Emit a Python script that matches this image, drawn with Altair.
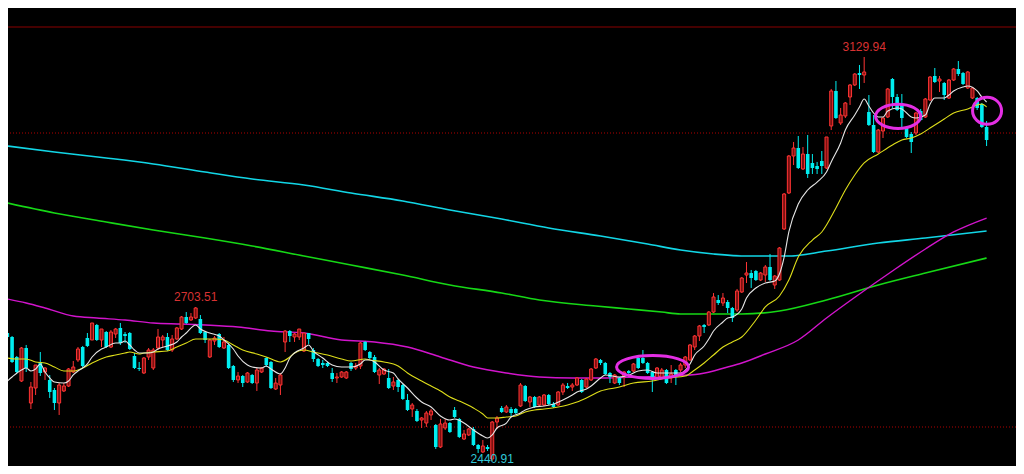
import altair as alt
import pandas as pd

# ---------------- data ----------------
open_ = [2659.2,2652.4,2618.3,2577.4,2633.6,2539.8,2565.4,2609.8,2592.7,2579.1,
         2562.0,2539.8,2560.3,2568.8,2592.7,2613.2,2635.3,2650.7,2647.3,2672.9,
         2647.3,2660.9,2635.3,2657.5,2667.8,2657.5,2659.2,2620.0,2599.5,2591.0,
         2618.3,2599.5,2633.6,2647.3,2652.4,2630.2,2649.0,2666.0,2686.5,2681.4,
         2684.8,2683.1,2660.9,2618.3,2645.6,2657.5,2633.6,2638.8,2602.9,2579.1,
         2585.9,2575.7,2587.6,2573.9,2592.7,2616.6,2609.8,2563.7,2570.5,2643.9,
         2662.6,2652.4,2652.4,2628.5,2659.2,2630.2,2614.9,2608.1,2608.1,2591.0,
         2582.5,2584.2,2582.5,2608.1,2599.5,2602.9,2643.9,2626.8,2618.3,2587.6,
         2589.3,2582.5,2568.8,2579.1,2570.5,2545.0,2529.6,2526.2,2510.8,2505.7,
         2519.4,2502.3,2464.8,2497.2,2505.7,2527.9,2512.5,2478.4,2485.3,2495.5,
         2468.2,2456.3,2464.8,2444.3,2507.4,2531.3,2524.5,2529.6,2529.6,2534.7,
         2568.8,2541.5,2550.1,2536.4,2536.4,2553.5,2538.1,2536.4,2558.6,2568.8,
         2567.1,2570.5,2579.1,2567.1,2579.1,2599.5,2613.2,2608.1,2591.0,2573.9,
         2582.5,2585.9,2594.4,2594.4,2616.6,2616.6,2608.1,2592.7,2582.5,2582.5,
         2596.1,2582.5,2596.1,2596.1,2604.6,2613.2,2635.3,2654.1,2672.9,2672.9,
         2695.0,2715.5,2710.4,2712.1,2701.9,2698.4,2729.1,2758.1,2761.5,2765.0,
         2749.6,2758.1,2771.8,2741.1,2749.6,2836.6,2898.0,2961.1,2974.7,2938.9,
         2964.5,2949.2,2944.0,2952.6,2940.6,3012.3,3072.0,3017.4,3029.3,3061.7,
         3082.2,3102.6,3099.2,3036.1,3014.0,2967.9,3003.7,3027.6,3092.4,3061.7,
         3049.8,3008.9,2998.6,3000.3,3037.8,3027.6,3056.6,3097.5,3089.0,3085.6,
         3060.0,3090.7,3109.5,3102.6,3077.1,3060.0,3060.0,3049.8,3010.6]
close = [2652.4,2609.8,2592.7,2633.6,2599.5,2567.1,2604.6,2591.0,2599.5,2558.6,
         2539.8,2570.5,2568.8,2597.8,2601.2,2631.9,2602.9,2637.1,2676.3,2647.3,
         2666.0,2635.3,2660.9,2666.0,2642.2,2654.1,2631.9,2599.5,2597.8,2616.6,
         2630.2,2630.2,2652.4,2652.4,2630.2,2649.0,2667.8,2686.5,2676.3,2686.5,
         2701.9,2659.2,2647.3,2647.3,2650.7,2635.3,2643.9,2599.5,2579.1,2585.9,
         2573.9,2591.0,2573.9,2596.1,2599.5,2604.6,2565.4,2573.9,2587.6,2662.6,
         2654.1,2657.5,2666.0,2659.2,2649.0,2614.9,2602.9,2604.6,2602.9,2580.8,
         2584.2,2592.7,2592.7,2597.8,2602.9,2642.2,2630.2,2616.6,2592.7,2596.1,
         2597.8,2565.4,2575.7,2567.1,2546.7,2527.9,2536.4,2509.1,2514.3,2522.8,
         2526.2,2464.8,2504.0,2505.7,2490.4,2516.0,2481.9,2487.0,2495.5,2468.2,
         2461.4,2466.5,2461.4,2507.4,2514.3,2524.5,2533.0,2522.8,2522.8,2570.5,
         2543.2,2550.1,2533.0,2550.1,2553.5,2538.1,2533.0,2558.6,2570.5,2565.4,
         2570.5,2582.5,2558.6,2580.8,2597.8,2614.9,2608.1,2589.3,2584.2,2587.6,
         2573.9,2592.7,2591.0,2606.4,2599.5,2608.1,2591.0,2582.5,2599.5,2596.1,
         2573.9,2589.3,2585.9,2604.6,2618.3,2638.8,2654.1,2671.2,2669.5,2695.0,
         2720.6,2710.4,2718.9,2701.9,2684.8,2730.9,2753.0,2761.5,2753.0,2749.6,
         2761.5,2771.8,2749.6,2756.4,2804.2,2896.3,2961.1,2974.7,2940.6,2964.5,
         2930.4,2940.6,2938.9,2944.0,2993.5,3072.0,3025.9,3031.0,3051.5,3082.2,
         3100.9,3099.2,3104.4,3014.0,2967.9,3005.4,3025.9,3075.4,3061.7,3039.5,
         3025.9,2993.5,2985.0,3034.4,3022.5,3058.3,3095.8,3087.3,3092.4,3065.1,
         3090.7,3109.5,3100.9,3083.9,3104.4,3077.1,3043.0,3010.6,2988.4]
high = [2676.3,2654.1,2620.0,2635.3,2638.8,2575.7,2604.6,2626.8,2601.2,2587.6,
        2565.4,2573.9,2573.9,2599.5,2611.5,2635.3,2637.1,2659.2,2676.3,2674.6,
        2666.0,2662.6,2664.3,2667.8,2676.3,2660.9,2660.9,2625.1,2609.8,2618.3,
        2633.6,2633.6,2666.0,2655.8,2659.2,2655.8,2669.5,2688.2,2695.0,2693.3,
        2703.51,2689.9,2662.6,2649.0,2654.1,2659.2,2652.4,2642.2,2604.6,2592.7,
        2587.6,2592.7,2589.3,2599.5,2601.2,2618.3,2611.5,2582.5,2591.0,2664.3,
        2664.3,2659.2,2666.0,2659.2,2659.2,2633.6,2616.6,2613.2,2609.8,2599.5,
        2591.0,2594.4,2594.4,2609.8,2608.1,2643.9,2645.6,2628.5,2621.7,2599.5,
        2599.5,2597.8,2584.2,2580.8,2572.2,2555.2,2539.8,2529.6,2516.0,2526.2,
        2529.6,2504.0,2512.5,2512.5,2507.4,2533.0,2514.3,2493.8,2497.2,2498.9,
        2469.9,2476.7,2468.2,2509.1,2517.7,2534.7,2536.4,2533.0,2531.3,2573.9,
        2570.5,2551.8,2551.8,2551.8,2555.2,2555.2,2541.5,2560.3,2573.9,2573.9,
        2573.9,2584.2,2580.8,2582.5,2599.5,2616.6,2614.9,2609.8,2592.7,2589.3,
        2584.2,2594.4,2596.1,2608.1,2618.3,2630.2,2609.8,2594.4,2601.2,2599.5,
        2597.8,2604.6,2597.8,2608.1,2620.0,2640.5,2655.8,2672.9,2674.6,2696.7,
        2727.4,2724.0,2727.4,2715.5,2703.6,2734.3,2754.7,2780.3,2766.7,2766.7,
        2763.3,2775.2,2794.0,2758.1,2805.9,2898.0,2962.8,2985.0,2995.2,2976.4,
        2996.9,2964.5,2950.9,2969.6,2993.5,3075.4,3089.0,3043.0,3053.2,3083.9,
        3102.6,3116.3,3129.94,3065.1,3031.0,3007.1,3027.6,3077.1,3094.1,3066.8,
        3066.8,3012.3,3002.0,3036.1,3041.3,3060.0,3097.5,3111.2,3097.5,3087.3,
        3092.4,3111.2,3123.1,3104.4,3106.1,3078.8,3061.7,3051.5,3020.8]
low = [2643.9,2608.1,2591.0,2575.7,2592.7,2529.6,2553.5,2585.9,2579.1,2548.4,
       2527.9,2519.4,2558.6,2567.1,2591.0,2609.8,2601.2,2635.3,2647.3,2645.6,
       2635.3,2633.6,2633.6,2650.7,2638.8,2642.2,2630.2,2597.8,2594.4,2589.3,
       2613.2,2596.1,2630.2,2635.3,2628.5,2626.8,2647.3,2664.3,2674.6,2679.7,
       2683.1,2657.5,2642.2,2616.6,2638.8,2633.6,2631.9,2597.8,2575.7,2573.9,
       2567.1,2573.9,2572.2,2560.3,2591.0,2601.2,2563.7,2562.0,2553.5,2626.8,
       2643.9,2643.9,2647.3,2626.8,2640.5,2609.8,2601.2,2599.5,2601.2,2575.7,
       2573.9,2582.5,2580.8,2594.4,2596.1,2597.8,2628.5,2614.9,2591.0,2572.2,
       2587.6,2563.7,2562.0,2558.6,2545.0,2526.2,2516.0,2507.4,2497.2,2498.9,
       2510.8,2461.4,2463.1,2493.8,2488.7,2514.3,2480.1,2476.7,2483.6,2466.5,
       2454.6,2454.6,2458.0,2440.91,2495.5,2522.8,2522.8,2517.7,2521.1,2533.0,
       2541.5,2533.0,2531.3,2534.7,2534.7,2536.4,2531.3,2534.7,2553.5,2563.7,
       2560.3,2568.8,2556.9,2565.4,2577.4,2597.8,2604.6,2587.6,2573.9,2572.2,
       2570.5,2567.1,2589.3,2592.7,2597.8,2606.4,2589.3,2558.6,2580.8,2580.8,
       2572.2,2573.9,2570.5,2592.7,2599.5,2611.5,2630.2,2645.6,2659.2,2671.2,
       2693.3,2707.0,2705.3,2693.3,2678.0,2695.0,2727.4,2744.5,2736.0,2747.9,
       2747.9,2746.2,2747.9,2734.3,2747.9,2834.9,2896.3,2945.7,2938.9,2937.2,
       2923.6,2930.4,2930.4,2930.4,2938.9,3005.4,3024.2,3014.0,3025.9,3048.1,
       3080.5,3075.4,3085.6,3012.3,2966.2,2966.2,2991.8,3025.9,3043.0,3037.8,
       3008.9,2991.8,2966.2,2996.9,3020.8,3025.9,3054.9,3085.6,3070.2,3056.6,
       3058.3,3089.0,3097.5,3082.2,3075.4,3058.3,3039.5,3008.9,2978.1]

# moving averages: (candle index, value)
ma_white_i = [0,1,3,4,5,6,7,8,9,10,12,13,14,15,16,17,18,20,21,23,24,25,26,27,28,30,31,32,34,36,
              37,38,40,41,43,45,46,48,49,51,52,54,55,56,58,59,60,61,63,64,65,67,69,71,73,75,76,77,78,80,
              82,83,85,87,88,90,92,94,95,97,99,101,102,103,104,106,107,109,110,112,114,116,118,120,121,123,124,126,127,130,
              132,134,136,138,140,142,143,145,146,148,149,150,152,153,154,156,157,159,161,163,164,165,166,168,170,172,174,175,177,178,
              180,181,182,183,184,185,186,187,189,190,192,193,195,196,197,199,200,201,203,204,206,207,208]
ma_white_v = [2577.4,2584.2,2596.1,2599.5,2594.4,2597.8,2606.4,2592.7,2582.5,2575.7,2573.9,2577.4,2587.6,2594.4,2599.5,2606.4,2618.3,2631.9,2635.3,2642.2,
              2642.2,2645.6,2638.8,2630.2,2625.1,2625.1,2626.8,2631.9,2637.1,2643.9,2652.4,2659.2,2672.9,2666.0,2659.2,2654.1,2647.3,2631.9,2620.0,2604.6,
              2601.2,2599.5,2602.9,2597.8,2589.3,2599.5,2616.6,2625.1,2633.6,2638.8,2628.5,2616.6,2604.6,2601.2,2601.2,2606.4,2613.2,2613.2,2609.8,2596.1,
              2591.0,2580.8,2565.4,2548.4,2541.5,2533.0,2517.7,2510.8,2512.5,2505.7,2493.8,2483.6,2480.1,2485.3,2497.2,2505.7,2516.0,2522.8,2527.9,2533.0,
              2534.7,2538.1,2545.0,2553.5,2558.6,2563.7,2568.8,2582.5,2587.6,2584.2,2587.6,2594.4,2596.1,2591.0,2591.0,2591.0,2591.0,2606.4,2621.7,2637.1,
              2649.0,2662.6,2678.0,2684.8,2686.5,2700.2,2718.9,2736.0,2744.5,2747.9,2759.8,2788.8,2831.5,2879.2,2903.1,2916.7,2933.8,2950.9,2983.3,3005.4,
              3031.0,3044.7,3058.3,3046.4,3034.4,3027.6,3027.6,3037.8,3043.0,3041.3,3027.6,3025.9,3031.0,3049.8,3060.0,3060.0,3065.1,3072.0,3078.8,3080.5,
              3072.0,3061.7,3053.2]
ma_yellow_i = [0,2,4,6,8,10,12,14,16,18,21,23,25,26,28,29,31,34,36,38,40,44,46,48,50,53,55,58,60,61,
               63,65,68,71,73,76,77,80,83,85,88,90,92,94,96,99,101,102,104,106,108,110,112,114,117,119,121,123,126,130,
               133,137,140,144,146,148,150,152,154,156,159,161,164,166,168,171,173,176,178,180,182,185,188,190,192,194,196,199,201,204,
               206,207,208]
ma_yellow_v = [2616.6,2614.9,2614.9,2609.8,2608.1,2601.2,2594.4,2594.4,2599.5,2608.1,2618.3,2621.7,2625.1,2626.8,2623.4,2625.1,2626.8,2628.5,2635.3,2642.2,
               2649.0,2649.0,2647.3,2638.8,2630.2,2623.4,2618.3,2609.8,2618.3,2625.1,2630.2,2626.8,2621.7,2614.9,2611.5,2614.9,2613.2,2609.8,2602.9,2591.0,
               2577.4,2568.8,2560.3,2550.1,2543.2,2531.3,2521.1,2514.3,2514.3,2516.0,2517.7,2524.5,2527.9,2529.6,2533.0,2536.4,2541.5,2548.4,2560.3,2567.1,
               2573.9,2577.4,2582.5,2585.9,2596.1,2608.1,2621.7,2635.3,2643.9,2652.4,2681.4,2703.6,2722.3,2749.6,2788.8,2817.8,2831.5,2872.4,2903.1,2928.7,
               2949.2,2964.5,2979.9,2988.4,2991.8,2998.6,3008.9,3024.2,3034.4,3041.3,3048.1,3049.8,3044.7]
ma_magenta_i = [0,4,8,14,19,25,31,37,42,49,56,63,71,78,85,92,99,106,113,120,127,134,141,147,153,156,161,168,174,181,188,195,201,208]
ma_magenta_v = [2717.2,2710.4,2701.9,2688.2,2684.8,2681.4,2676.3,2674.6,2672.9,2669.5,2662.6,2659.2,2647.3,2643.9,2635.3,2618.3,2601.2,2591.0,2584.2,2582.5,
                2582.5,2584.2,2585.9,2589.3,2601.2,2608.1,2623.4,2647.3,2684.8,2725.7,2765.0,2802.5,2831.5,2855.3]
ma_cyan_i = [0,10,21,31,42,52,63,73,84,94,105,115,126,136,143,150,157,166,174,185,195,208]
ma_cyan_v = [2978.1,2967.9,2957.7,2947.5,2933.8,2921.9,2911.6,2898.0,2884.3,2869.0,2853.6,2838.3,2824.6,2811.0,2800.8,2794.0,2790.5,2790.5,2799.1,2812.7,
             2821.2,2833.2]
ma_green_i = [0,10,21,31,42,52,63,73,84,94,105,113,125,132,139,143,156,164,174,185,195,208]
ma_green_v = [2880.9,2863.9,2848.5,2834.9,2821.2,2807.6,2790.5,2775.2,2758.1,2741.1,2727.4,2715.5,2705.3,2700.2,2695.0,2691.6,2691.6,2696.7,2715.5,2741.1,
              2761.5,2787.1]

# reference levels
level_solid = [3181.1]
level_dotted = [3000.3, 2498.9]

# annotations
hi_label_i, hi_label_p, hi_label_t = [182, 40], [3129.94, 2703.51], ["3129.94", "2703.51"]
lo_label_i, lo_label_t = [103], ["2440.91"]
ellipse_i = [137.05, 189.2, 208.1]
ellipse_p = [2601.2, 3028.8, 3038.2]

n = len(open_)
assert len(close) == n and len(high) == n and len(low) == n, (len(open_), len(close), len(high), len(low))
assert len(ma_white_i) == len(ma_white_v), (len(ma_white_i), len(ma_white_v))
assert len(ma_yellow_i) == len(ma_yellow_v), (len(ma_yellow_i), len(ma_yellow_v))
assert len(ma_magenta_i) == len(ma_magenta_v)
assert len(ma_cyan_i) == len(ma_cyan_v)
assert len(ma_green_i) == len(ma_green_v)

df = pd.DataFrame({"i": list(range(n)), "o": open_, "h": high, "l": low, "c": close})
df["dir"] = ["up" if c >= o else "down" for o, c in zip(df.o, df.c)]
df["top"] = df[["o", "c"]].max(axis=1)
df["bot"] = df[["o", "c"]].min(axis=1)

# ---------------- layout ----------------
W, H = 1008, 458
OFF = 8                      # page margin
X0, DX = 2.3, 4.755          # first candle centre / spacing (px)
P0, PPX = 3227.15, 1.7055    # price at top edge of window / price per px
xscale = alt.Scale(domain=[(OFF - X0) / DX, (OFF + W - X0) / DX], nice=False, zero=False)
y_lo = P0 - PPX * (OFF + H)
yscale = alt.Scale(domain=[y_lo, P0 - PPX * OFF], nice=False, zero=False)

RED, RED_FILL, CYAN = "#ff3434", "#7c1010", "#00eef0"

X = alt.X("i:Q", scale=xscale, axis=None)


def Y(f):
    return alt.Y(f"{f}:Q", scale=yscale, axis=None)


solid = alt.Chart(pd.DataFrame({"p": level_solid})).mark_rule(
    color="#8a0000", strokeWidth=1).encode(y=Y("p"))
dotted = alt.Chart(pd.DataFrame({"p": level_dotted})).mark_rule(
    color="#b00000", strokeWidth=1, strokeDash=[1, 2]).encode(y=Y("p"))


def ma_line(idx, vals, color, sw, interp="monotone"):
    return alt.Chart(pd.DataFrame({"i": idx, "v": vals})).mark_line(
        color=color, strokeWidth=sw, clip=True, interpolate=interp).encode(x=X, y=Y("v"))


cyan_ma = ma_line(ma_cyan_i, ma_cyan_v, "#12d6e6", 1.6)
green_ma = ma_line(ma_green_i, ma_green_v, "#16d816", 1.6)
mag_ma = ma_line(ma_magenta_i, ma_magenta_v, "#d214cc", 1.4)
yel_ma = ma_line(ma_yellow_i, ma_yellow_v, "#dede1a", 1.1)
wht_ma = ma_line(ma_white_i, ma_white_v, "#e6e6e6", 1.1)

wick = alt.Chart(df).mark_rule(strokeWidth=1, clip=True).encode(
    x=X, y=Y("l"), y2="h:Q",
    color=alt.Color("dir:N", scale=alt.Scale(domain=["up", "down"], range=[RED, CYAN]), legend=None))
body_up = alt.Chart(df).transform_filter(alt.datum.dir == "up").mark_bar(
    width=3, fill=RED_FILL, stroke=RED, strokeWidth=1, clip=True).encode(x=X, y=Y("bot"), y2="top:Q")
body_dn = alt.Chart(df).transform_filter(alt.datum.dir == "down").mark_bar(
    width=3.6, color=CYAN, clip=True).encode(x=X, y=Y("bot"), y2="top:Q")

ell_paths = [("M -1 0 A 1 0.32 0 1 1 1 0 A 1 0.32 0 1 1 -1 0 Z", 72 ** 2),
             ("M -1 0 A 1 0.54 0 1 1 1 0 A 1 0.54 0 1 1 -1 0 Z", 45 ** 2),
             ("M -1 0 A 1 0.93 0 1 1 1 0 A 1 0.93 0 1 1 -1 0 Z", 29 ** 2)]
ellipses = []
for k, (path, size) in enumerate(ell_paths):
    ellipses.append(alt.Chart(pd.DataFrame({"i": [ellipse_i[k]], "p": [ellipse_p[k]]})).mark_point(
        shape=path, size=size, filled=False, stroke="#e42ee4", strokeWidth=3, opacity=1, clip=True
    ).encode(x=X, y=Y("p")))

hi_text = alt.Chart(pd.DataFrame({"i": hi_label_i, "p": hi_label_p, "t": hi_label_t})).mark_text(
    font="Liberation Sans", fontSize=12, color="#d83232", baseline="bottom", dy=-3, align="center"
).encode(x=X, y=Y("p"), text="t:N")
# the low label sits at the lower edge of the window
lo_text = alt.Chart(pd.DataFrame({"i": lo_label_i, "p": [y_lo], "t": lo_label_t})).mark_text(
    font="Liberation Sans", fontSize=12, color="#30c8d8", baseline="bottom", dy=0, align="center"
).encode(x=X, y=Y("p"), text="t:N")

chart = alt.layer(
    solid, dotted, cyan_ma, green_ma, mag_ma, wick, body_dn, body_up, yel_ma, wht_ma,
    *ellipses, hi_text, lo_text
).properties(
    width=W, height=H, padding=0,
    autosize=alt.AutoSizeParams(type="none"),
).configure(background="#000000").configure_view(stroke=None)

chart.save("out.html", embed_options={"renderer": "svg", "actions": False})
